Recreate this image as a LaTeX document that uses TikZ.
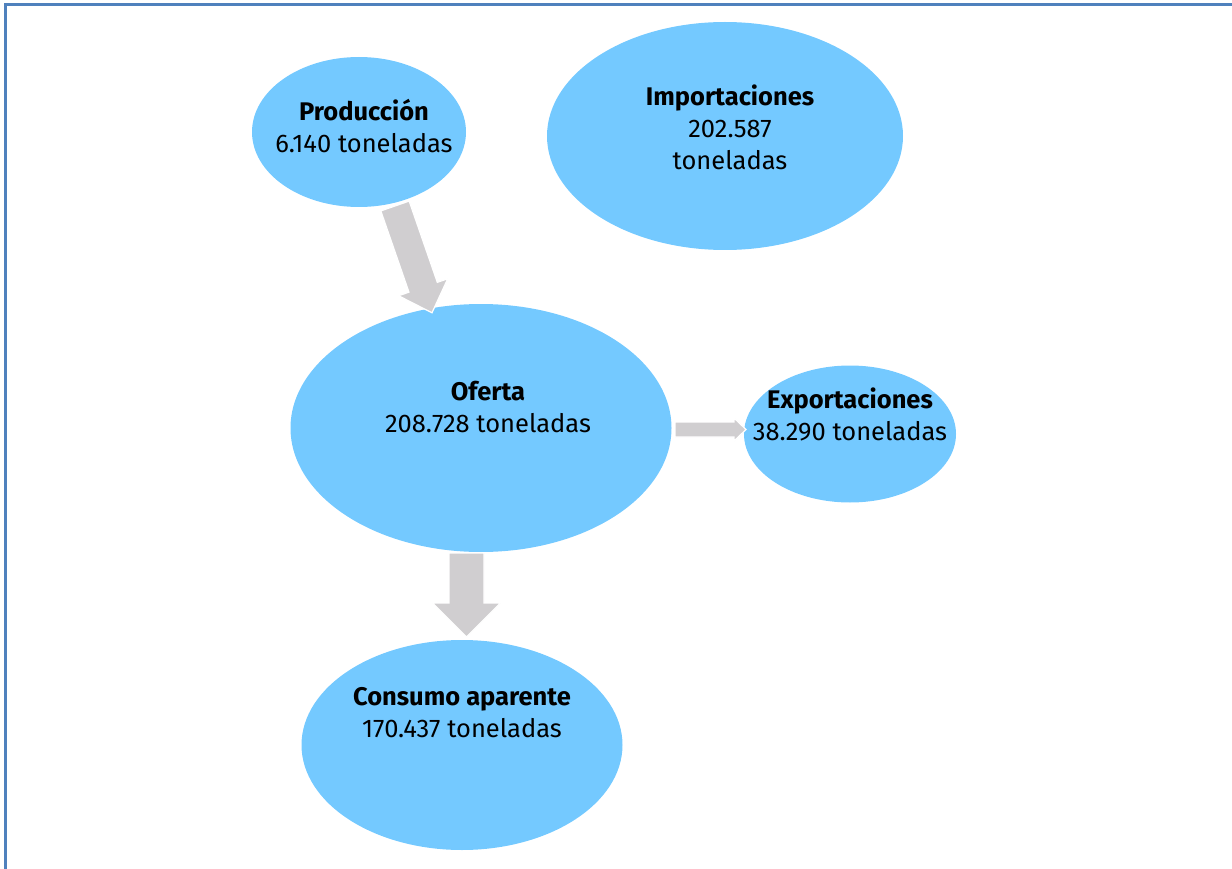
\documentclass[tikz,border=0pt]{standalone}
\usepackage{fontspec}
\setmainfont{Fira Sans}
\usetikzlibrary{shapes.geometric}
\definecolor{ellblue}{RGB}{116,201,255}
\definecolor{arrgray}{RGB}{208,206,208}
\definecolor{frameblue}{RGB}{79,129,189}
\tikzset{
  bubble/.style={ellipse, fill=ellblue, draw=none, inner sep=0pt},
  bubbletext/.style={align=center, font=\fontsize{25.5}{32}\selectfont, inner sep=0pt, text=black},
  blockarr/.style={fill=arrgray, draw=white, line width=1.2pt, line join=miter},
}
% start x, start y, angle, length, shaft half width, head half width, head length
\newcommand\myblockarrow[7]{%
  \begin{scope}[shift={(#1,#2)},rotate=#3]
    \path[blockarr] (0,-#5) -- ({#4-#7},-#5) -- ({#4-#7},-#6) -- (#4,0) -- ({#4-#7},#6) -- ({#4-#7},#5) -- (0,#5) -- cycle;
  \end{scope}}
\begin{document}
\begin{tikzpicture}[x=1pt,y=1pt]
\useasboundingbox (0,0) rectangle (1232,-869);
% frame
\draw[frameblue, line width=3pt] (5.5,-869) -- (5.5,-4.5) -- (1232,-4.5);
% ellipses
\node[bubble, minimum width=214pt, minimum height=150pt] (prod) at (359,-132) {};
\node[bubble, minimum width=356pt, minimum height=228pt] (imp) at (725,-136) {};
\node[bubble, minimum width=381pt, minimum height=248pt] (ofer) at (481,-428) {};
\node[bubble, minimum width=212pt, minimum height=137pt] (expo) at (850,-434) {};
\node[bubble, minimum width=321pt, minimum height=210pt] (cons) at (462,-745) {};
% texts
\node[bubbletext] (prodt) at (364,-126) {\textbf{Producción}\\6.140 toneladas};
\node[bubbletext] (impt) at (730,-127) {\textbf{Importaciones}\\202.587\\toneladas};
\node[bubbletext] (ofert) at (488,-406.5) {\textbf{Oferta}\\208.728 toneladas};
\node[bubbletext] (expot) at (850,-414.5) {\textbf{Exportaciones}\\38.290 toneladas};
\node[bubbletext] (const) at (462,-712.5) {\textbf{Consumo aparente}\\170.437 toneladas};
% block arrows
\myblockarrow{395}{-206}{-70.9}{113}{15}{26}{27}
\myblockarrow{466.5}{-553}{-90}{84}{17.5}{34}{34}
\myblockarrow{675}{-429.5}{0}{71}{7.5}{11.5}{12}
\end{tikzpicture}
\end{document}
